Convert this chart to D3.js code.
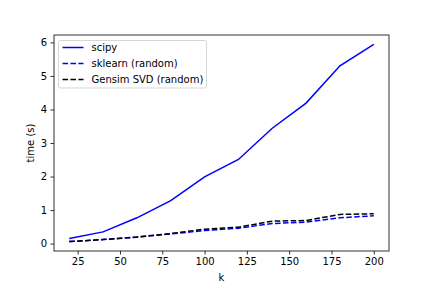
<!DOCTYPE html>
<html>
<head>
<meta charset="utf-8">
<script src="https://cdn.jsdelivr.net/npm/d3@7"></script>
<style>
  body { margin: 0; background: #fff; }
  text { font-family: "DejaVu Sans", sans-serif; font-size: 10px; fill: #000; }
</style>
</head>
<body>
<div id="chart"></div>
<script>
var ks = [20, 40, 60, 80, 100, 120, 140, 160, 180, 200];
var scipy = [0.15, 0.35, 0.77, 1.28, 1.99, 2.51, 3.44, 4.19, 5.30, 5.94];
var sklearn = [0.06, 0.12, 0.19, 0.29, 0.39, 0.46, 0.60, 0.64, 0.77, 0.83];
var gensim = [0.06, 0.12, 0.20, 0.30, 0.43, 0.49, 0.67, 0.69, 0.87, 0.89];
var xTicks = [25, 50, 75, 100, 125, 150, 175, 200];
var yTicks = [0, 1, 2, 3, 4, 5, 6];
var seriesNames = ["scipy", "sklearn (random)", "Gensim SVD (random)"];

var width = 432, height = 288;
var axLeft = 54, axRight = 389, axTop = 35, axBottom = 251;

var svg = d3.select("#chart").append("svg")
    .attr("width", width)
    .attr("height", height);

var x = d3.scaleLinear().domain([11, 209]).range([axLeft, axRight]);
var y = d3.scaleLinear().domain([-0.22, 6.22]).range([axBottom, axTop]);

// axes
var xAxis = svg.append("g")
    .attr("transform", "translate(0," + axBottom + ")")
    .call(d3.axisBottom(x).tickValues(xTicks).tickSize(3.5).tickPadding(3.5));
var yAxis = svg.append("g")
    .attr("transform", "translate(" + axLeft + ",0)")
    .call(d3.axisLeft(y).tickValues(yTicks).tickSize(3.5).tickPadding(3.5).tickFormat(d3.format("d")));

[xAxis, yAxis].forEach(function(a){
	a.select(".domain").remove();
	a.selectAll(".tick line").attr("stroke", "#000").attr("stroke-width", 0.8);
	a.selectAll("text").style("font-size", "10px").style("font-family", "DejaVu Sans");
});

var line = d3.line()
    .x(function(d, i){ return x(ks[i]); })
    .y(function(d){ return y(d); });

svg.append("path").datum(scipy)
    .attr("d", line).attr("fill", "none")
    .attr("stroke", "#0000ff").attr("stroke-width", 1.5);
svg.append("path").datum(sklearn)
    .attr("d", line).attr("fill", "none")
    .attr("stroke", "#0000ff").attr("stroke-width", 1.5)
    .attr("stroke-dasharray", "5.55,2.4");
svg.append("path").datum(gensim)
    .attr("d", line).attr("fill", "none")
    .attr("stroke", "#000000").attr("stroke-width", 1.5)
    .attr("stroke-dasharray", "5.55,2.4");

// frame
svg.append("rect")
    .attr("x", axLeft).attr("y", axTop)
    .attr("width", axRight - axLeft).attr("height", axBottom - axTop)
    .attr("fill", "none").attr("stroke", "#000").attr("stroke-width", 0.8);

// axis labels
svg.append("text")
    .attr("x", (axLeft + axRight) / 2).attr("y", 281)
    .attr("text-anchor", "middle")
    .text("k");
svg.append("text")
    .attr("transform", "translate(34," + ((axTop + axBottom) / 2) + ") rotate(-90)")
    .attr("text-anchor", "middle")
    .text("time (s)");

// legend
var legend = svg.append("g");
legend.append("rect")
    .attr("x", 58.5).attr("y", 40.5)
    .attr("width", 148).attr("height", 47.5)
    .attr("rx", 2)
    .attr("fill", "#fff").attr("fill-opacity", 0.8)
    .attr("stroke", "#ccc").attr("stroke-width", 0.8);

var legendColors = ["#0000ff", "#0000ff", "#000000"];
var legendDash = [null, "5.55,2.4", "5.55,2.4"];
seriesNames.forEach(function(name, i){
	var ly = 47.5 + i * 16;
	legend.append("line")
	    .attr("x1", 62.5).attr("x2", 83.5)
	    .attr("y1", ly).attr("y2", ly)
	    .attr("stroke", legendColors[i]).attr("stroke-width", 1.5)
	    .attr("stroke-dasharray", legendDash[i]);
	legend.append("text")
	    .attr("x", 91.5).attr("y", ly + 3.6)
	    .text(name);
});
</script>
</body>
</html>
